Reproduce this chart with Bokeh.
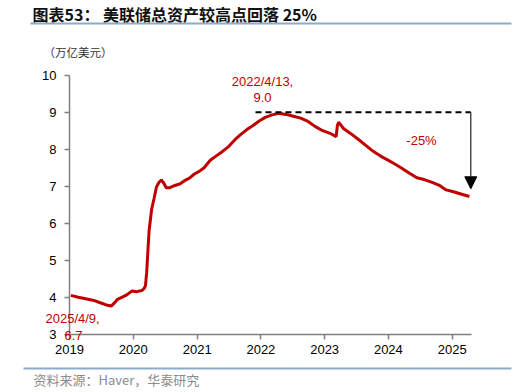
import pandas as pd
from bokeh.plotting import figure
from bokeh.models import (Label, BoxAnnotation, Arrow, NormalHead, Range1d, FixedTicker,
                          DatetimeTickFormatter, ColumnDataSource)
from bokeh.embed import file_html
from bokeh.resources import INLINE

# ---- data ----
dates = ["2019-01-09", "2019-02-20", "2019-04-03", "2019-05-15", "2019-06-26", "2019-08-07",
         "2019-08-28", "2019-09-18", "2019-10-02", "2019-10-30", "2019-11-27", "2019-12-25",
         "2020-01-22", "2020-02-19", "2020-03-04", "2020-03-11", "2020-03-18", "2020-03-25",
         "2020-04-01", "2020-04-08", "2020-04-15", "2020-04-29", "2020-05-13", "2020-05-27",
         "2020-06-10", "2020-06-24", "2020-07-08", "2020-07-29", "2020-08-26", "2020-09-23",
         "2020-10-21", "2020-11-18", "2020-12-16", "2021-01-13", "2021-02-10", "2021-03-17",
         "2021-04-21", "2021-05-26", "2021-06-30", "2021-08-04", "2021-09-08", "2021-10-13",
         "2021-11-17", "2021-12-22", "2022-01-26", "2022-03-02", "2022-04-13", "2022-05-25",
         "2022-07-06", "2022-08-17", "2022-09-28", "2022-11-09", "2022-12-21", "2023-02-01",
         "2023-03-08", "2023-03-15", "2023-03-22", "2023-04-19", "2023-05-31", "2023-07-12",
         "2023-08-23", "2023-10-04", "2023-11-15", "2023-12-27", "2024-02-07", "2024-03-20",
         "2024-05-01", "2024-06-12", "2024-07-24", "2024-09-04", "2024-10-16", "2024-11-27",
         "2025-01-08", "2025-02-19", "2025-04-09"]
assets = [4.05, 4.00, 3.96, 3.92, 3.85, 3.78,
          3.76, 3.86, 3.94, 4.00, 4.07, 4.17,
          4.15, 4.18, 4.24, 4.31, 4.67, 5.25,
          5.81, 6.08, 6.37, 6.66, 6.98, 7.10,
          7.17, 7.08, 6.96, 6.96, 7.02, 7.06,
          7.15, 7.22, 7.33, 7.40, 7.50, 7.70,
          7.82, 7.94, 8.07, 8.25, 8.40, 8.53,
          8.64, 8.76, 8.86, 8.92, 8.97, 8.94,
          8.89, 8.84, 8.75, 8.61, 8.50, 8.43,
          8.34, 8.64, 8.73, 8.56, 8.42, 8.27,
          8.11, 7.95, 7.82, 7.71, 7.60, 7.48,
          7.35, 7.23, 7.18, 7.11, 7.03, 6.90,
          6.85, 6.79, 6.72]
peak_value = 9.0
trough_value = 6.93
peak_label = ["2022/4/13,", "9.0"]
last_label = ["2025/4/9,", "6.7"]
drop_label = "-25%"
year_ticks = [2019, 2020, 2021, 2022, 2023, 2024, 2025]
value_ticks = [3, 4, 5, 6, 7, 8, 9, 10]

title_text = "图表53：  美联储总资产较高点回落 25%"
unit_text = "（万亿美元）"
source_text = "资料来源：Haver，华泰研究"

RED = "#C00000"
FONT = "Liberation Sans"
CJK = "Noto Sans CJK SC"

W, H = 531, 392
# axis box in page pixels
AX_L, AX_R, AX_T, AX_B = 69, 471, 74.7, 333.7
Y_MIN, Y_MAX = 3, 10
t0 = pd.Timestamp("2019-01-01")
t1 = pd.Timestamp("2025-04-21")
t0_ms = t0.value / 1e6
t1_ms = t1.value / 1e6
kx = (AX_R - AX_L) / (t1_ms - t0_ms)
ky = (AX_B - AX_T) / (Y_MAX - Y_MIN)

x_range = Range1d(t0_ms - AX_L / kx, t1_ms + (W - AX_R) / kx)
y_range = Range1d(Y_MIN - (H - AX_B) / ky, Y_MAX + AX_T / ky)

x = pd.to_datetime(dates)
src = ColumnDataSource(dict(x=x, y=assets))

p = figure(width=W, height=H, output_backend="svg", toolbar_location=None,
           x_axis_type="datetime", x_range=x_range, y_range=y_range,
           min_border=0, min_border_left=0, min_border_right=0,
           min_border_top=0, min_border_bottom=0)
p.outline_line_color = None
p.grid.grid_line_color = None
p.background_fill_color = "white"
p.border_fill_color = "white"

p.line("x", "y", source=src, line_color=RED, line_width=3)

# axes drawn at fixed positions inside the frame
xa, ya = p.xaxis[0], p.yaxis[0]
xa.fixed_location = Y_MIN
xa.bounds = (t0_ms, t1_ms)
ya.fixed_location = t0_ms
ya.bounds = (Y_MIN, Y_MAX)
for ax in (xa, ya):
    ax.axis_line_color = "#808080"
    ax.axis_line_width = 1.5
    ax.major_tick_line_color = "#808080"
    ax.major_tick_line_width = 1.5
    ax.major_tick_out = 5
    ax.major_tick_in = 0
    ax.minor_tick_line_color = None
    ax.major_label_text_font = FONT
    ax.major_label_text_font_size = "13px"
    ax.major_label_text_color = "black"
xa.ticker = FixedTicker(ticks=[pd.Timestamp(f"{yr}-01-01").value / 1e6 for yr in year_ticks])
xa.formatter = DatetimeTickFormatter(years="%Y", months="%Y", days="%Y")
ya.ticker = FixedTicker(ticks=value_ticks)
xa.major_label_standoff = 6
ya.major_label_standoff = 8

# dashed peak line and arrow
peak_x0 = pd.Timestamp("2021-12-01")
arrow_x = pd.Timestamp("2025-04-17")
p.segment(x0=[peak_x0], y0=[peak_value], x1=[arrow_x], y1=[peak_value],
          line_color="black", line_width=2, line_dash="6 4")
p.add_layout(Arrow(x_start=arrow_x, y_start=peak_value, x_end=arrow_x, y_end=trough_value,
                   line_color="#222222", line_width=1.2,
                   end=NormalHead(size=12, fill_color="black", line_color="black")))

# texts, placed in page pixels (frame == canvas, screen y measured from bottom)
def slab(px, py, text, **kw):
    d = dict(x_units="screen", y_units="screen", text_align="left", text_baseline="middle",
             text_font=FONT, text_font_size="13px", text_color=RED)
    d.update(kw)
    p.add_layout(Label(x=px, y=H - py, text=text, **d))

slab(262, 81, peak_label[0], text_align="center")
slab(262, 97, peak_label[1], text_align="center")
slab(421, 140, drop_label, text_align="center")
slab(45, 318, last_label[0])
slab(64, 335, last_label[1])

slab(32, 13, title_text, text_font=CJK, text_font_size="16px", text_font_style="bold", text_color="#111111")
slab(43, 51, unit_text, text_font=CJK, text_font_size="11.5px", text_color="#333333")
slab(33, 379, source_text, text_font=CJK, text_font_size="13px", text_color="#8c8c8c")

for top, bot, left in ((22, 24, 30), (367, 369, 23)):
    p.add_layout(BoxAnnotation(left=left, right=511, top=H - top, bottom=H - bot,
                               left_units="screen", right_units="screen",
                               top_units="screen", bottom_units="screen",
                               fill_color="#8EA9C9", fill_alpha=1, line_color=None))

open("out.html", "w").write(file_html(p, INLINE))
